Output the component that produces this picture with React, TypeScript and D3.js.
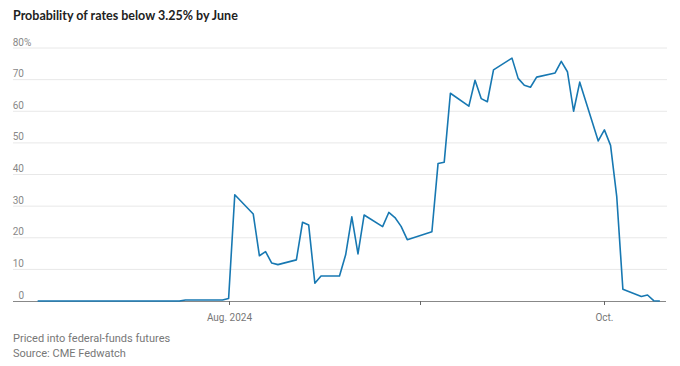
import React from "react";
import * as d3 from "d3";

const dates: string[] = [
  "2024-07-01","2024-07-02","2024-07-03","2024-07-05","2024-07-08","2024-07-09","2024-07-10","2024-07-11","2024-07-12",
  "2024-07-15","2024-07-16","2024-07-17","2024-07-18","2024-07-19","2024-07-22","2024-07-23","2024-07-24","2024-07-25",
  "2024-07-26","2024-07-29","2024-07-30","2024-07-31",
  "2024-08-01","2024-08-02","2024-08-05","2024-08-06","2024-08-07","2024-08-08","2024-08-09","2024-08-12","2024-08-13",
  "2024-08-14","2024-08-15","2024-08-16","2024-08-19","2024-08-20","2024-08-21","2024-08-22","2024-08-23","2024-08-26",
  "2024-08-27","2024-08-28","2024-08-29","2024-08-30",
  "2024-09-03","2024-09-04","2024-09-05","2024-09-06","2024-09-09","2024-09-10","2024-09-11","2024-09-12","2024-09-13",
  "2024-09-16","2024-09-17","2024-09-18","2024-09-19","2024-09-20","2024-09-23","2024-09-24","2024-09-25","2024-09-26",
  "2024-09-27","2024-09-30",
  "2024-10-01","2024-10-02","2024-10-03","2024-10-04","2024-10-07","2024-10-08","2024-10-09","2024-10-10",
];

const probability: number[] = [
  0, 0, 0, 0, 0, 0, 0, 0, 0,
  0, 0, 0, 0, 0, 0, 0, 0, 0.3,
  0.3, 0.3, 0.3, 0.3,
  0.8, 33.6, 27.5, 14.3, 15.6, 12, 11.5, 13, 24.9,
  24, 5.6, 7.9, 7.9, 14.6, 26.6, 14.9, 27.2, 23.5,
  28, 26.4, 23.6, 19.4,
  21.9, 43.5, 43.9, 65.7, 61.6, 69.8, 64, 63, 73.1,
  76.8, 70.4, 68.2, 67.6, 70.8, 72.1, 75.8, 72.5, 60,
  69.2, 50.6,
  54.1, 49.2, 33.1, 3.7, 1.4, 1.9, 0.1, 0,
];

const yTicks: number[] = [0, 10, 20, 30, 40, 50, 60, 70, 80];
const xTickDates: string[] = ["2024-08-01", "2024-09-01", "2024-10-01"];
const xTickLabels: string[] = ["Aug. 2024", "", "Oct."];
const xDomain: string[] = ["2024-06-27", "2024-10-11"];

const title = "Probability of rates below 3.25% by June";
const note1 = "Priced into federal-funds futures";
const note2 = "Source: CME Fedwatch";

const W = 680;
const H = 366;
const left = 13;
const right = 666;
const top = 48;
const bottom = 301;

const parse = d3.utcParse("%Y-%m-%d");

export default function App() {
  const x = d3
    .scaleUtc()
    .domain(xDomain.map((d) => parse(d) as Date))
    .range([left, right]);
  const y = d3.scaleLinear().domain([0, 80]).range([bottom, top]);

  const pts = dates.map((d, i) => ({ date: parse(d) as Date, v: probability[i] }));
  const line = d3
    .line<{ date: Date; v: number }>()
    .x((d) => x(d.date))
    .y((d) => y(d.v));

  const font = "Roboto, sans-serif";

  return (
    <svg
      width={W}
      height={H}
      style={{ position: "absolute", left: 0, top: 0, background: "#fff" }}
      fontFamily={font}
    >
      <text x={13} y={20} fontFamily="Lato, sans-serif" fontWeight={700} fontSize={12.5} fill="#222">
        {title}
      </text>
      {yTicks.map((t) => (
        <g key={t}>
          {t !== 0 && (
            <line x1={left} x2={right + 1} y1={y(t)} y2={y(t)} stroke="#e8e8e8" strokeWidth={1} />
          )}
          <text x={24} y={y(t) - 2.5} textAnchor="end" fontSize={10} fill="#888">
            {t}
          </text>
          {t === 80 && (
            <text x={24} y={y(t) - 2.5} textAnchor="start" fontSize={10} fill="#888">
              %
            </text>
          )}
        </g>
      ))}
      <line x1={left} x2={right} y1={bottom + 0.5} y2={bottom + 0.5} stroke="#888" strokeWidth={1} />
      {xTickDates.map((d, i) => {
        const xx = Math.round(x(parse(d) as Date)) + 0.5;
        return (
          <g key={d}>
            <line x1={xx} x2={xx} y1={bottom} y2={bottom + 4} stroke="#666" strokeWidth={1} />
            {xTickLabels[i] && (
              <text x={xx} y={321} textAnchor="middle" fontSize={10} fill="#777">
                {xTickLabels[i]}
              </text>
            )}
          </g>
        );
      })}
      <path d={line(pts) || ""} fill="none" stroke="#1778b2" strokeWidth={1.6} strokeLinejoin="round" />
      <text x={13} y={342} fontSize={11} fill="#777">
        {note1}
      </text>
      <text x={13} y={357} fontSize={11} fill="#777">
        {note2}
      </text>
    </svg>
  );
}
